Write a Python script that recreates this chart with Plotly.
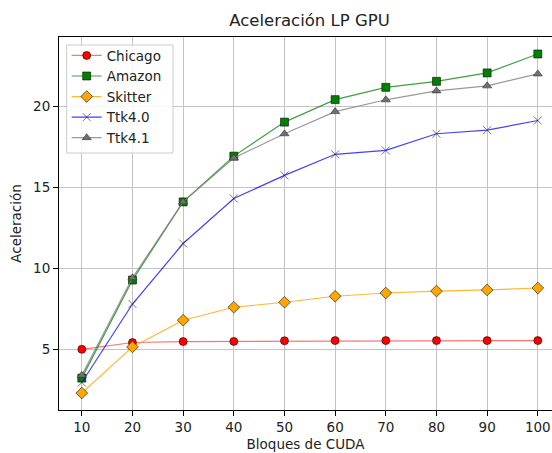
import plotly.graph_objects as go

bloques = [10, 20, 30, 40, 50, 60, 70, 80, 90, 100]
chicago = [5.00, 5.42, 5.48, 5.49, 5.53, 5.54, 5.54, 5.54, 5.54, 5.54]
amazon = [3.22, 9.28, 14.11, 16.94, 19.04, 20.43, 21.19, 21.56, 22.08, 23.25]
skitter = [2.30, 5.15, 6.80, 7.60, 7.91, 8.28, 8.48, 8.60, 8.67, 8.79]
ttk40 = [2.95, 7.80, 11.54, 14.32, 15.75, 17.05, 17.29, 18.32, 18.54, 19.14]
ttk41 = [3.39, 9.42, 14.11, 16.82, 18.32, 19.69, 20.42, 20.97, 21.28, 22.02]

FONT = "DejaVu Sans"

series = [
    ("Chicago", chicago, "rgba(255,0,0,0.55)", "circle", "red", "rgba(0,0,0,0.7)", 8),
    ("Amazon", amazon, "rgba(0,128,0,0.75)", "square", "green", "rgba(0,0,0,0.7)", 8),
    ("Skitter", skitter, "rgba(255,165,0,0.8)", "diamond", "orange", "rgba(0,0,0,0.7)", 9),
    ("Ttk4.0", ttk40, "rgba(0,0,255,0.75)", "x-thin", "#333333", "rgba(40,40,40,0.8)", 8),
    ("Ttk4.1", ttk41, "rgba(128,128,128,0.8)", "triangle-up", "#707070", "rgba(40,40,40,0.7)", 8),
]

fig = go.Figure()
for name, vals, lc, sym, mc, mlc, ms in series:
    fig.add_trace(go.Scatter(
        x=bloques, y=vals, name=name, mode="lines+markers",
        line=dict(color=lc, width=1.2),
        marker=dict(symbol=sym, size=ms, color=mc,
                    line=dict(color=mlc, width=0.8)),
    ))

axis_common = dict(
    showgrid=True, gridcolor="#c4c4c4", gridwidth=1,
    showline=True, linecolor="black", linewidth=1,
    ticks="outside", ticklen=5, tickwidth=1, tickcolor="black",
    tickfont=dict(family=FONT, size=13.5, color="#222"),
    zeroline=False,
)

# legend frame (matplotlib-style box)
fig.add_shape(type="rect", xref="paper", yref="paper",
              x0=0.0156, x1=0.2312, y0=0.689, y1=0.9786,
              fillcolor="rgba(255,255,255,0.85)",
              line=dict(color="#cccccc", width=1), layer="above")

fig.update_layout(
    width=552, height=453,
    margin=dict(l=59, r=0, t=37, b=43),
    paper_bgcolor="white", plot_bgcolor="white",
    font=dict(family=FONT, color="#222"),
    title=dict(text="Aceleración LP GPU", x=(59 + 560) / 2 / 552, xanchor="center",
               y=1 - 20 / 453, yanchor="middle",
               font=dict(family=FONT, size=16.5, color="#222")),
    xaxis=dict(range=[5.5, 102.8], tickvals=bloques, mirror=True,
               title=dict(text="Bloques de CUDA", standoff=5,
                          font=dict(family=FONT, size=13.5, color="#222")),
               **axis_common),
    yaxis=dict(range=[1.25, 24.3], tickvals=[5, 10, 15, 20],
               title=dict(text="Aceleración", standoff=8,
                          font=dict(family=FONT, size=13.5, color="#222")),
               **axis_common),
    legend=dict(x=0.0156, y=0.9915, xanchor="left", yanchor="top",
                bgcolor="rgba(0,0,0,0)", borderwidth=0,
                font=dict(family=FONT, size=13.5, color="#222")),
    showlegend=True,
)

fig.write_html("out.html")
